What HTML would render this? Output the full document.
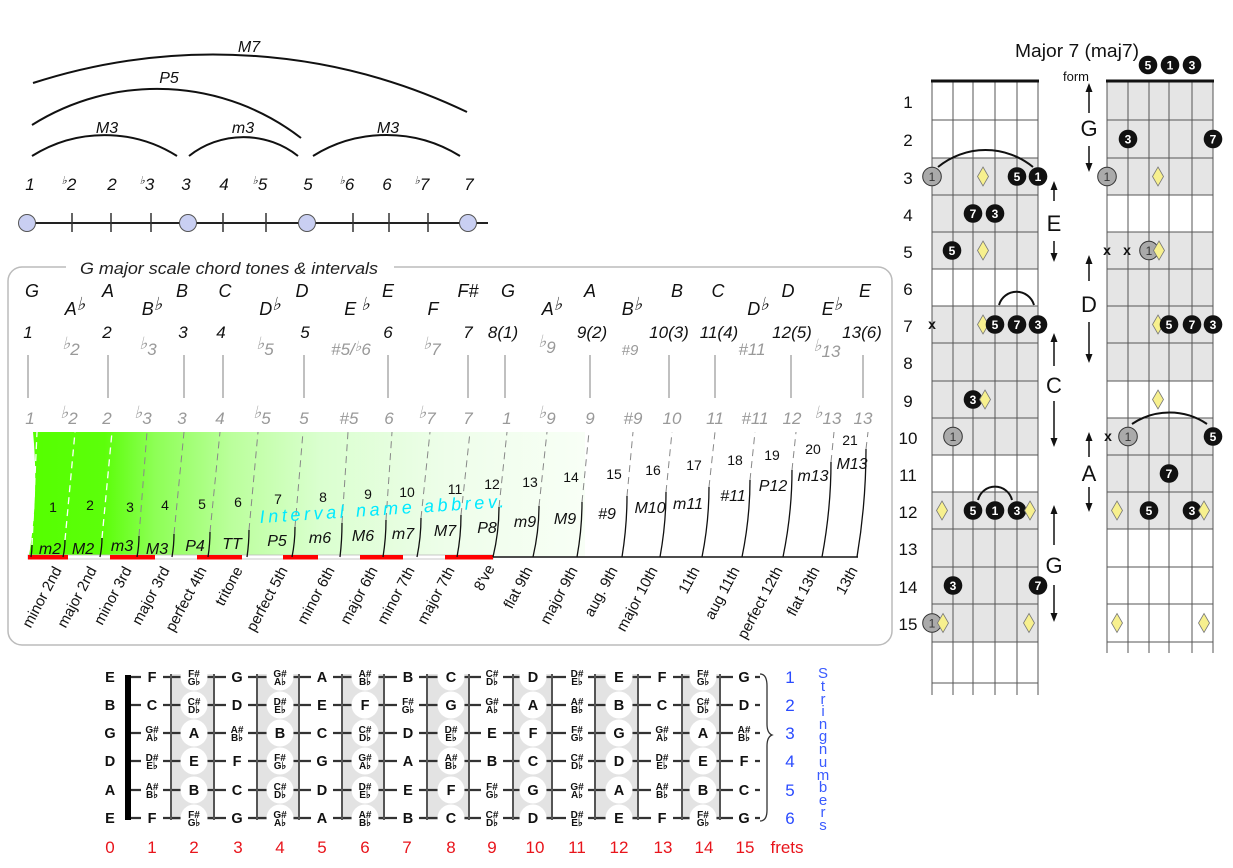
<!DOCTYPE html>
<html><head><meta charset="utf-8"><style>
html,body{margin:0;padding:0;background:#fff}
svg{display:block}
text{font-family:"Liberation Sans",Arial,sans-serif}
.i{font-style:italic}
.n{font-weight:bold;font-size:14.5px;text-anchor:middle;fill:#111}
.s{font-weight:bold;font-size:10px;text-anchor:middle;fill:#111}
.bt{fill:#fff;font-weight:bold;font-size:12px;text-anchor:middle}
.gc{fill:#aaa;stroke:#333;stroke-width:1}
.gt{fill:#333;font-size:12px;text-anchor:middle}
.d{fill:#f7f08e;stroke:#777;stroke-width:.8}
.x{font-weight:bold;font-size:14px;text-anchor:middle;fill:#111}
.nm{font-size:15px;text-anchor:end;fill:#111}
</style></head><body>
<svg width="1233" height="868" viewBox="0 0 1233 868" xmlns="http://www.w3.org/2000/svg">
<defs>
<linearGradient id="gr" x1="33" y1="0" x2="585" y2="0" gradientUnits="userSpaceOnUse">
<stop offset="0" stop-color="#55ff00"/><stop offset="0.13" stop-color="#5cff0a"/><stop offset="0.22" stop-color="#8dff55"/><stop offset="0.36" stop-color="#bbff9c"/><stop offset="0.52" stop-color="#daffcf"/><stop offset="0.75" stop-color="#eefeea"/><stop offset="1" stop-color="#f8fff6"/>
</linearGradient>
</defs>

<!-- ===== Top-left interval diagram ===== -->
<g fill="none" stroke="#111" stroke-width="2">
<path d="M32,156 A136,136 0 0 1 177,156"/>
<path d="M189,156 A88,88 0 0 1 298,156"/>
<path d="M313,156 A139,139 0 0 1 460,156"/>
<path d="M32,125 A235,235 0 0 1 301,138"/>
<path d="M33,83 A587,587 0 0 1 467,112"/>
</g>
<g class="i" font-size="16" text-anchor="middle" fill="#111">
<text x="249" y="52">M7</text>
<text x="169" y="83">P5</text>
<text x="107" y="133">M3</text>
<text x="243" y="133">m3</text>
<text x="388" y="133">M3</text>
</g>
<g class="i" font-size="17" text-anchor="middle" fill="#111">
<text x="30" y="190">1</text>
<text x="69" y="190"><tspan font-size="11" dy="-6">♭</tspan><tspan dy="6">2</tspan></text>
<text x="112" y="190">2</text>
<text x="147" y="190"><tspan font-size="11" dy="-6">♭</tspan><tspan dy="6">3</tspan></text>
<text x="186" y="190">3</text>
<text x="224" y="190">4</text>
<text x="260" y="190"><tspan font-size="11" dy="-6">♭</tspan><tspan dy="6">5</tspan></text>
<text x="308" y="190">5</text>
<text x="347" y="190"><tspan font-size="11" dy="-6">♭</tspan><tspan dy="6">6</tspan></text>
<text x="387" y="190">6</text>
<text x="422" y="190"><tspan font-size="11" dy="-6">♭</tspan><tspan dy="6">7</tspan></text>
<text x="469" y="190">7</text>
</g>
<line x1="27" y1="223" x2="488" y2="223" stroke="#222" stroke-width="2"/>
<g stroke="#333" stroke-width="1.5">
<line x1="72" y1="213" x2="72" y2="232"/><line x1="111" y1="213" x2="111" y2="232"/><line x1="151" y1="213" x2="151" y2="232"/><line x1="223" y1="213" x2="223" y2="232"/><line x1="266" y1="213" x2="266" y2="232"/><line x1="353" y1="213" x2="353" y2="232"/><line x1="389" y1="213" x2="389" y2="232"/><line x1="428" y1="213" x2="428" y2="232"/>
</g>
<g fill="#c9cff2" stroke="#555" stroke-width="1">
<circle cx="27" cy="223" r="8.5"/><circle cx="188" cy="223" r="8.5"/><circle cx="307" cy="223" r="8.5"/><circle cx="468" cy="223" r="8.5"/>
</g>

<!-- ===== Chord tones box ===== -->
<rect x="8" y="267" width="884" height="378" rx="14" fill="none" stroke="#bbb" stroke-width="1.5"/>
<rect x="66" y="258" width="328" height="16" fill="#fff"/>
<text x="229" y="274" class="i" font-size="17" text-anchor="middle" textLength="298" lengthAdjust="spacingAndGlyphs" fill="#222">G major scale chord tones &amp; intervals</text>

<g class="i" font-size="18" text-anchor="middle" fill="#111">
<text x="32" y="297">G</text><text x="108" y="297">A</text><text x="182" y="297">B</text><text x="225" y="297">C</text><text x="302" y="297">D</text><text x="388" y="297">E</text><text x="468" y="297">F#</text><text x="508" y="297">G</text><text x="590" y="297">A</text><text x="677" y="297">B</text><text x="718" y="297">C</text><text x="788" y="297">D</text><text x="865" y="297">E</text>
<text x="75" y="315">A<tspan dy="-5">♭</tspan></text>
<text x="152" y="315">B<tspan dy="-5">♭</tspan></text>
<text x="270" y="315">D<tspan dy="-5">♭</tspan></text>
<text x="357" y="315">E <tspan dy="-5">♭</tspan></text>
<text x="433" y="315">F</text>
<text x="552" y="315">A<tspan dy="-5">♭</tspan></text>
<text x="632" y="315">B<tspan dy="-5">♭</tspan></text>
<text x="758" y="315">D<tspan dy="-5">♭</tspan></text>
<text x="832" y="315">E<tspan dy="-5">♭</tspan></text>
</g>
<g class="i" font-size="17" text-anchor="middle" fill="#111">
<text x="28" y="338">1</text><text x="107" y="338">2</text><text x="183" y="338">3</text><text x="221" y="338">4</text><text x="305" y="338">5</text><text x="388" y="338">6</text><text x="468" y="338">7</text><text x="503" y="338">8(1)</text><text x="592" y="338">9(2)</text><text x="669" y="338">10(3)</text><text x="719" y="338">11(4)</text><text x="792" y="338">12(5)</text><text x="862" y="338">13(6)</text>
</g>
<g class="i" font-size="17" text-anchor="middle" fill="#999">
<text x="71" y="355"><tspan dy="-6">♭</tspan><tspan dy="6">2</tspan></text>
<text x="148" y="355"><tspan dy="-6">♭</tspan><tspan dy="6">3</tspan></text>
<text x="265" y="355"><tspan dy="-6">♭</tspan><tspan dy="6">5</tspan></text>
<text x="351" y="355">#5/<tspan dy="-4" font-size="14">♭</tspan><tspan dy="4">6</tspan></text>
<text x="432" y="355"><tspan dy="-6">♭</tspan><tspan dy="6">7</tspan></text>
<text x="547" y="353"><tspan dy="-6">♭</tspan><tspan dy="6">9</tspan></text>
<text x="630" y="355" font-size="15">#9</text>
<text x="752" y="355">#11</text>
<text x="827" y="357"><tspan dy="-6">♭</tspan><tspan dy="6">13</tspan></text>
</g>
<g stroke="#aaa" stroke-width="1.5">
<line x1="28" y1="355" x2="28" y2="398"/><line x1="108" y1="355" x2="108" y2="398"/><line x1="184" y1="355" x2="184" y2="398"/><line x1="223" y1="355" x2="223" y2="398"/><line x1="304" y1="355" x2="304" y2="398"/><line x1="388" y1="355" x2="388" y2="398"/><line x1="468" y1="355" x2="468" y2="398"/><line x1="505" y1="355" x2="505" y2="398"/><line x1="590" y1="355" x2="590" y2="398"/><line x1="669" y1="355" x2="669" y2="398"/><line x1="715" y1="355" x2="715" y2="398"/><line x1="791" y1="355" x2="791" y2="398"/><line x1="863" y1="355" x2="863" y2="398"/>
</g>
<g class="i" font-size="17" text-anchor="middle" fill="#999">
<text x="30" y="424">1</text>
<text x="69" y="424"><tspan dy="-6">♭</tspan><tspan dy="6">2</tspan></text>
<text x="107" y="424">2</text>
<text x="143" y="424"><tspan dy="-6">♭</tspan><tspan dy="6">3</tspan></text>
<text x="182" y="424">3</text>
<text x="220" y="424">4</text>
<text x="262" y="424"><tspan dy="-6">♭</tspan><tspan dy="6">5</tspan></text>
<text x="304" y="424">5</text>
<text x="349" y="424">#5</text>
<text x="389" y="424">6</text>
<text x="427" y="424"><tspan dy="-6">♭</tspan><tspan dy="6">7</tspan></text>
<text x="468" y="424">7</text>
<text x="507" y="424">1</text>
<text x="547" y="424"><tspan dy="-6">♭</tspan><tspan dy="6">9</tspan></text>
<text x="590" y="424">9</text>
<text x="633" y="424">#9</text>
<text x="672" y="424">10</text>
<text x="715" y="424">11</text>
<text x="755" y="424">#11</text>
<text x="792" y="424">12</text>
<text x="828" y="424"><tspan dy="-6">♭</tspan><tspan dy="6">13</tspan></text>
<text x="863" y="424">13</text>
</g>

<!-- green area -->
<path d="M33,432 L585,432 L585,556 L29,556 Q39,494 33,432 Z" fill="url(#gr)"/>

<!-- baseline -->
<rect x="28" y="555" width="465" height="4" fill="#fff" stroke="#bbb" stroke-width="0.8"/>
<line x1="493" y1="557" x2="858" y2="557" stroke="#111" stroke-width="1.5"/>
<g fill="#f00">
<rect x="28" y="555" width="40" height="4.5"/><rect x="110" y="555" width="45" height="4.5"/><rect x="197" y="555" width="45" height="4.5"/><rect x="283" y="555" width="35" height="4.5"/><rect x="360" y="555" width="43" height="4.5"/><rect x="445" y="555" width="48" height="4.5"/>
</g>

<!-- separators solid -->
<g fill="none" stroke="#111" stroke-width="1.3">
<path d="M31,557 Q32,551 32,545"/>
<path d="M63,557 Q65,548 65,540"/>
<path d="M100,557 Q102,547 102,538"/>
<path d="M137,557 Q139,546 139,536"/>
<path d="M172,557 Q174,545 174,534"/>
<path d="M208,557 Q210,544 210,532"/>
<path d="M247,557 Q249,543 249,530"/>
<path d="M292,557 Q295,542 295,527"/>
<path d="M340,557 Q342,540 342,523"/>
<path d="M383,557 Q386,538 386,520"/>
<path d="M417,557 Q421,537 421,518"/>
<path d="M457,557 Q461,536 461,515"/>
<path d="M493,557 Q499,532 499,507"/>
<path d="M533,557 Q539,531 539,506"/>
<path d="M577,557 Q582,529 582,502"/>
<path d="M622,557 Q627,526 627,496"/>
<path d="M660,557 Q666,524 666,492"/>
<path d="M702,557 Q709,522 709,487"/>
<path d="M742,557 Q750,518 750,480"/>
<path d="M783,557 Q792,513 792,470"/>
<path d="M822,557 Q831,509 831,462"/>
<path d="M857,557 Q866,503 866,449"/>
</g>
<g fill="none" stroke="#fff" stroke-width="1.3" stroke-dasharray="7,5">
<path d="M32,545 L37,432"/><path d="M65,540 L75,432"/><path d="M102,538 L112,432"/>
</g>
<g fill="none" stroke="#888" stroke-width="1" stroke-dasharray="7,5">
<path d="M139,536 L147,432"/><path d="M174,534 L184,432"/><path d="M210,532 L220,432"/><path d="M249,530 L258,432"/><path d="M295,527 L303,432"/><path d="M342,523 L348,432"/><path d="M386,520 L392,432"/><path d="M421,518 L430,432"/><path d="M461,515 L470,432"/><path d="M499,507 L507,432"/><path d="M539,506 L547,432"/><path d="M582,502 L589,432"/><path d="M627,496 L633,432"/><path d="M666,492 L672,432"/><path d="M709,487 L715,432"/><path d="M750,480 L755,432"/><path d="M792,470 L796,432"/><path d="M831,462 L834,432"/><path d="M866,449 L868,432"/>
</g>

<!-- numbers 1-21 -->
<g font-size="14" text-anchor="middle" fill="#111">
<text x="53" y="512">1</text><text x="90" y="510">2</text><text x="130" y="512">3</text><text x="165" y="510">4</text><text x="202" y="509">5</text><text x="238" y="507">6</text><text x="278" y="504">7</text><text x="323" y="502">8</text><text x="368" y="499">9</text><text x="407" y="497">10</text><text x="455" y="494">11</text><text x="492" y="489">12</text><text x="530" y="487">13</text><text x="571" y="482">14</text><text x="614" y="479">15</text><text x="653" y="475">16</text><text x="694" y="470">17</text><text x="735" y="465">18</text><text x="772" y="460">19</text><text x="813" y="454">20</text><text x="850" y="445">21</text>
</g>

<!-- abbreviations -->
<g class="i" font-size="16" text-anchor="middle" fill="#111">
<text x="50" y="554">m2</text><text x="83" y="554">M2</text><text x="122" y="551">m3</text><text x="157" y="554">M3</text><text x="195" y="551">P4</text><text x="232" y="549">TT</text><text x="277" y="546">P5</text><text x="320" y="543">m6</text><text x="363" y="541">M6</text><text x="403" y="539">m7</text><text x="445" y="536">M7</text><text x="487" y="533">P8</text><text x="525" y="527">m9</text><text x="565" y="524">M9</text><text x="607" y="519">#9</text><text x="650" y="513">M10</text><text x="688" y="509">m11</text><text x="733" y="501">#11</text><text x="773" y="491">P12</text><text x="813" y="481">m13</text><text x="852" y="469">M13</text>
</g>

<text x="260" y="523" transform="rotate(-3.7 260 523)" class="i" font-size="18" fill="#00eaff" textLength="245" lengthAdjust="spacing">Interval name abbrev.</text>

<!-- full names -->
<g>
<text class="nm" transform="translate(62,570) rotate(-62)">minor 2nd</text>
<text class="nm" transform="translate(97,570) rotate(-62)">major 2nd</text>
<text class="nm" transform="translate(132,570) rotate(-62)">minor 3rd</text>
<text class="nm" transform="translate(170,570) rotate(-62)">major 3rd</text>
<text class="nm" transform="translate(207,570) rotate(-62)">perfect 4th</text>
<text class="nm" transform="translate(243,570) rotate(-62)">tritone</text>
<text class="nm" transform="translate(288,570) rotate(-62)">perfect 5th</text>
<text class="nm" transform="translate(335,570) rotate(-62)">minor 6th</text>
<text class="nm" transform="translate(378,570) rotate(-62)">major 6th</text>
<text class="nm" transform="translate(415,570) rotate(-62)">minor 7th</text>
<text class="nm" transform="translate(455,570) rotate(-62)">major 7th</text>
<text class="nm" transform="translate(495,568) rotate(-62)">8've</text>
<text class="nm" transform="translate(533,570) rotate(-62)">flat 9th</text>
<text class="nm" transform="translate(578,570) rotate(-62)">major 9th</text>
<text class="nm" transform="translate(618,570) rotate(-62)">aug. 9th</text>
<text class="nm" transform="translate(658,570) rotate(-62)">major 10th</text>
<text class="nm" transform="translate(700,570) rotate(-62)">11th</text>
<text class="nm" transform="translate(740,570) rotate(-62)">aug 11th</text>
<text class="nm" transform="translate(783,570) rotate(-62)">perfect 12th</text>
<text class="nm" transform="translate(820,570) rotate(-62)">flat 13th</text>
<text class="nm" transform="translate(858,570) rotate(-62)">13th</text>
</g>

<!-- ===== Bottom fretboard ===== -->
<g fill="#e3e3e3">
<rect x="171" y="674" width="43" height="146"/><rect x="257" y="674" width="42" height="146"/><rect x="342" y="674" width="42" height="146"/><rect x="427" y="674" width="42" height="146"/><rect x="513" y="674" width="39" height="146"/><rect x="595" y="674" width="43" height="146"/><rect x="682" y="674" width="38" height="146"/>
</g>
<g stroke="#333" stroke-width="2.2">
<line x1="128" y1="677" x2="760" y2="677"/><line x1="128" y1="705" x2="760" y2="705"/><line x1="128" y1="733" x2="760" y2="733"/><line x1="128" y1="761" x2="760" y2="761"/><line x1="128" y1="790" x2="760" y2="790"/><line x1="128" y1="818" x2="760" y2="818"/>
</g>
<g stroke="#555" stroke-width="2">
<line x1="171" y1="674" x2="171" y2="820"/><line x1="214" y1="674" x2="214" y2="820"/><line x1="257" y1="674" x2="257" y2="820"/><line x1="299" y1="674" x2="299" y2="820"/><line x1="342" y1="674" x2="342" y2="820"/><line x1="384" y1="674" x2="384" y2="820"/><line x1="427" y1="674" x2="427" y2="820"/><line x1="469" y1="674" x2="469" y2="820"/><line x1="513" y1="674" x2="513" y2="820"/><line x1="552" y1="674" x2="552" y2="820"/><line x1="595" y1="674" x2="595" y2="820"/><line x1="638" y1="674" x2="638" y2="820"/><line x1="682" y1="674" x2="682" y2="820"/><line x1="720" y1="674" x2="720" y2="820"/>
</g>
<rect x="125" y="675" width="6" height="145" fill="#000"/>
<g fill="#fff">
<circle cx="194" cy="677" r="13.5"/><circle cx="194" cy="705" r="13.5"/><circle cx="194" cy="733" r="13.5"/><circle cx="194" cy="761" r="13.5"/><circle cx="194" cy="790" r="13.5"/><circle cx="194" cy="818" r="13.5"/>
<circle cx="280" cy="677" r="13.5"/><circle cx="280" cy="705" r="13.5"/><circle cx="280" cy="733" r="13.5"/><circle cx="280" cy="761" r="13.5"/><circle cx="280" cy="790" r="13.5"/><circle cx="280" cy="818" r="13.5"/>
<circle cx="365" cy="677" r="13.5"/><circle cx="365" cy="705" r="13.5"/><circle cx="365" cy="733" r="13.5"/><circle cx="365" cy="761" r="13.5"/><circle cx="365" cy="790" r="13.5"/><circle cx="365" cy="818" r="13.5"/>
<circle cx="451" cy="677" r="13.5"/><circle cx="451" cy="705" r="13.5"/><circle cx="451" cy="733" r="13.5"/><circle cx="451" cy="761" r="13.5"/><circle cx="451" cy="790" r="13.5"/><circle cx="451" cy="818" r="13.5"/>
<circle cx="533" cy="677" r="13.5"/><circle cx="533" cy="705" r="13.5"/><circle cx="533" cy="733" r="13.5"/><circle cx="533" cy="761" r="13.5"/><circle cx="533" cy="790" r="13.5"/><circle cx="533" cy="818" r="13.5"/>
<circle cx="619" cy="677" r="13.5"/><circle cx="619" cy="705" r="13.5"/><circle cx="619" cy="733" r="13.5"/><circle cx="619" cy="761" r="13.5"/><circle cx="619" cy="790" r="13.5"/><circle cx="619" cy="818" r="13.5"/>
<circle cx="703" cy="677" r="13.5"/><circle cx="703" cy="705" r="13.5"/><circle cx="703" cy="733" r="13.5"/><circle cx="703" cy="761" r="13.5"/><circle cx="703" cy="790" r="13.5"/><circle cx="703" cy="818" r="13.5"/>
<rect x="141" y="668" width="22" height="158"/><rect x="226" y="668" width="22" height="158"/><rect x="311" y="668" width="22" height="158"/><rect x="397" y="668" width="22" height="158"/><rect x="481" y="668" width="22" height="158"/><rect x="566" y="668" width="22" height="158"/><rect x="651" y="668" width="22" height="158"/><rect x="733" y="668" width="22" height="158"/>
</g>
<g>
<text class="n" x="110" y="682">E</text><text class="n" x="110" y="710">B</text><text class="n" x="110" y="738">G</text><text class="n" x="110" y="766">D</text><text class="n" x="110" y="795">A</text><text class="n" x="110" y="823">E</text>
<text class="n" x="152" y="682">F</text><text class="n" x="152" y="710">C</text>
<text class="s" x="152" y="733">G#</text><text class="s" x="152" y="741">A♭</text>
<text class="s" x="152" y="761">D#</text><text class="s" x="152" y="769">E♭</text>
<text class="s" x="152" y="790">A#</text><text class="s" x="152" y="798">B♭</text>
<text class="n" x="152" y="823">F</text>
<text class="s" x="194" y="677">F#</text><text class="s" x="194" y="685">G♭</text>
<text class="s" x="194" y="705">C#</text><text class="s" x="194" y="713">D♭</text>
<text class="n" x="194" y="738">A</text><text class="n" x="194" y="766">E</text><text class="n" x="194" y="795">B</text>
<text class="s" x="194" y="818">F#</text><text class="s" x="194" y="826">G♭</text>
<text class="n" x="237" y="682">G</text><text class="n" x="237" y="710">D</text>
<text class="s" x="237" y="733">A#</text><text class="s" x="237" y="741">B♭</text>
<text class="n" x="237" y="766">F</text><text class="n" x="237" y="795">C</text><text class="n" x="237" y="823">G</text>
<text class="s" x="280" y="677">G#</text><text class="s" x="280" y="685">A♭</text>
<text class="s" x="280" y="705">D#</text><text class="s" x="280" y="713">E♭</text>
<text class="n" x="280" y="738">B</text>
<text class="s" x="280" y="761">F#</text><text class="s" x="280" y="769">G♭</text>
<text class="s" x="280" y="790">C#</text><text class="s" x="280" y="798">D♭</text>
<text class="s" x="280" y="818">G#</text><text class="s" x="280" y="826">A♭</text>
<text class="n" x="322" y="682">A</text><text class="n" x="322" y="710">E</text><text class="n" x="322" y="738">C</text><text class="n" x="322" y="766">G</text><text class="n" x="322" y="795">D</text><text class="n" x="322" y="823">A</text>
<text class="s" x="365" y="677">A#</text><text class="s" x="365" y="685">B♭</text>
<text class="n" x="365" y="710">F</text>
<text class="s" x="365" y="733">C#</text><text class="s" x="365" y="741">D♭</text>
<text class="s" x="365" y="761">G#</text><text class="s" x="365" y="769">A♭</text>
<text class="s" x="365" y="790">D#</text><text class="s" x="365" y="798">E♭</text>
<text class="s" x="365" y="818">A#</text><text class="s" x="365" y="826">B♭</text>
<text class="n" x="408" y="682">B</text>
<text class="s" x="408" y="705">F#</text><text class="s" x="408" y="713">G♭</text>
<text class="n" x="408" y="738">D</text><text class="n" x="408" y="766">A</text><text class="n" x="408" y="795">E</text><text class="n" x="408" y="823">B</text>
<text class="n" x="451" y="682">C</text><text class="n" x="451" y="710">G</text>
<text class="s" x="451" y="733">D#</text><text class="s" x="451" y="741">E♭</text>
<text class="s" x="451" y="761">A#</text><text class="s" x="451" y="769">B♭</text>
<text class="n" x="451" y="795">F</text><text class="n" x="451" y="823">C</text>
<text class="s" x="492" y="677">C#</text><text class="s" x="492" y="685">D♭</text>
<text class="s" x="492" y="705">G#</text><text class="s" x="492" y="713">A♭</text>
<text class="n" x="492" y="738">E</text><text class="n" x="492" y="766">B</text>
<text class="s" x="492" y="790">F#</text><text class="s" x="492" y="798">G♭</text>
<text class="s" x="492" y="818">C#</text><text class="s" x="492" y="826">D♭</text>
<text class="n" x="533" y="682">D</text><text class="n" x="533" y="710">A</text><text class="n" x="533" y="738">F</text><text class="n" x="533" y="766">C</text><text class="n" x="533" y="795">G</text><text class="n" x="533" y="823">D</text>
<text class="s" x="577" y="677">D#</text><text class="s" x="577" y="685">E♭</text>
<text class="s" x="577" y="705">A#</text><text class="s" x="577" y="713">B♭</text>
<text class="s" x="577" y="733">F#</text><text class="s" x="577" y="741">G♭</text>
<text class="s" x="577" y="761">C#</text><text class="s" x="577" y="769">D♭</text>
<text class="s" x="577" y="790">G#</text><text class="s" x="577" y="798">A♭</text>
<text class="s" x="577" y="818">D#</text><text class="s" x="577" y="826">E♭</text>
<text class="n" x="619" y="682">E</text><text class="n" x="619" y="710">B</text><text class="n" x="619" y="738">G</text><text class="n" x="619" y="766">D</text><text class="n" x="619" y="795">A</text><text class="n" x="619" y="823">E</text>
<text class="n" x="662" y="682">F</text><text class="n" x="662" y="710">C</text>
<text class="s" x="662" y="733">G#</text><text class="s" x="662" y="741">A♭</text>
<text class="s" x="662" y="761">D#</text><text class="s" x="662" y="769">E♭</text>
<text class="s" x="662" y="790">A#</text><text class="s" x="662" y="798">B♭</text>
<text class="n" x="662" y="823">F</text>
<text class="s" x="703" y="677">F#</text><text class="s" x="703" y="685">G♭</text>
<text class="s" x="703" y="705">C#</text><text class="s" x="703" y="713">D♭</text>
<text class="n" x="703" y="738">A</text><text class="n" x="703" y="766">E</text><text class="n" x="703" y="795">B</text>
<text class="s" x="703" y="818">F#</text><text class="s" x="703" y="826">G♭</text>
<text class="n" x="744" y="682">G</text><text class="n" x="744" y="710">D</text>
<text class="s" x="744" y="733">A#</text><text class="s" x="744" y="741">B♭</text>
<text class="n" x="744" y="766">F</text><text class="n" x="744" y="795">C</text><text class="n" x="744" y="823">G</text>
</g>
<path d="M760,674 Q767,674 767,686 L767,724 Q767,733 772,735 Q767,737 767,746 L767,810 Q767,821 760,821" fill="none" stroke="#333" stroke-width="1.3"/>
<g font-size="17" text-anchor="middle" fill="#2a4bff">
<text x="790" y="683">1</text><text x="790" y="711">2</text><text x="790" y="739">3</text><text x="790" y="767">4</text><text x="790" y="796">5</text><text x="790" y="824">6</text>
</g>
<g font-size="15" text-anchor="middle" fill="#3a5bff">
<text x="823" y="678">S</text><text x="823" y="691">t</text><text x="823" y="704">r</text><text x="823" y="716">i</text><text x="823" y="729">n</text><text x="823" y="741">g</text><text x="823" y="754">n</text><text x="823" y="767">u</text><text x="823" y="780">m</text><text x="823" y="792">b</text><text x="823" y="805">e</text><text x="823" y="817">r</text><text x="823" y="830">s</text>
</g>
<g font-size="17" text-anchor="middle" fill="#e8141b">
<text x="110" y="853">0</text><text x="152" y="853">1</text><text x="194" y="853">2</text><text x="238" y="853">3</text><text x="280" y="853">4</text><text x="322" y="853">5</text><text x="365" y="853">6</text><text x="407" y="853">7</text><text x="451" y="853">8</text><text x="492" y="853">9</text><text x="535" y="853">10</text><text x="577" y="853">11</text><text x="619" y="853">12</text><text x="663" y="853">13</text><text x="704" y="853">14</text><text x="745" y="853">15</text><text x="787" y="853">frets</text>
</g>

<!-- ===== Right chord diagrams ===== -->
<text x="1077" y="57" font-size="18" text-anchor="middle" textLength="124" lengthAdjust="spacingAndGlyphs" fill="#111">Major 7 (maj7)</text>
<g fill="#e5e5e5">
<rect x="932" y="158" width="106" height="111"/><rect x="932" y="306" width="106" height="149"/><rect x="932" y="492" width="106" height="150"/>
<rect x="1107" y="82" width="106" height="113"/><rect x="1107" y="232" width="106" height="149"/><rect x="1107" y="418" width="106" height="111"/>
</g>
<g stroke="#555" stroke-width="1">
<line x1="932" y1="82" x2="932" y2="695"/><line x1="953" y1="82" x2="953" y2="695"/><line x1="973" y1="82" x2="973" y2="695"/><line x1="995" y1="82" x2="995" y2="695"/><line x1="1017" y1="82" x2="1017" y2="695"/><line x1="1038" y1="82" x2="1038" y2="695"/>
<line x1="1107" y1="82" x2="1107" y2="653"/><line x1="1128" y1="82" x2="1128" y2="653"/><line x1="1149" y1="82" x2="1149" y2="653"/><line x1="1169" y1="82" x2="1169" y2="653"/><line x1="1192" y1="82" x2="1192" y2="653"/><line x1="1213" y1="82" x2="1213" y2="653"/>
<line x1="932" y1="120" x2="1038" y2="120"/><line x1="932" y1="158" x2="1038" y2="158"/><line x1="932" y1="195" x2="1038" y2="195"/><line x1="932" y1="232" x2="1038" y2="232"/><line x1="932" y1="269" x2="1038" y2="269"/><line x1="932" y1="306" x2="1038" y2="306"/><line x1="932" y1="343" x2="1038" y2="343"/><line x1="932" y1="381" x2="1038" y2="381"/><line x1="932" y1="418" x2="1038" y2="418"/><line x1="932" y1="455" x2="1038" y2="455"/><line x1="932" y1="492" x2="1038" y2="492"/><line x1="932" y1="529" x2="1038" y2="529"/><line x1="932" y1="567" x2="1038" y2="567"/><line x1="932" y1="604" x2="1038" y2="604"/><line x1="932" y1="642" x2="1038" y2="642"/><line x1="932" y1="683" x2="1038" y2="683"/>
<line x1="1107" y1="120" x2="1213" y2="120"/><line x1="1107" y1="158" x2="1213" y2="158"/><line x1="1107" y1="195" x2="1213" y2="195"/><line x1="1107" y1="232" x2="1213" y2="232"/><line x1="1107" y1="269" x2="1213" y2="269"/><line x1="1107" y1="306" x2="1213" y2="306"/><line x1="1107" y1="343" x2="1213" y2="343"/><line x1="1107" y1="381" x2="1213" y2="381"/><line x1="1107" y1="418" x2="1213" y2="418"/><line x1="1107" y1="455" x2="1213" y2="455"/><line x1="1107" y1="492" x2="1213" y2="492"/><line x1="1107" y1="529" x2="1213" y2="529"/><line x1="1107" y1="567" x2="1213" y2="567"/><line x1="1107" y1="604" x2="1213" y2="604"/><line x1="1107" y1="642" x2="1213" y2="642"/>
</g>
<g stroke="#111" stroke-width="3">
<line x1="931" y1="81" x2="1039" y2="81"/><line x1="1106" y1="81" x2="1214" y2="81"/>
</g>
<g font-size="17" text-anchor="middle" fill="#111">
<text x="908" y="108">1</text><text x="908" y="146">2</text><text x="908" y="184">3</text><text x="908" y="221">4</text><text x="908" y="258">5</text><text x="908" y="295">6</text><text x="908" y="332">7</text><text x="908" y="369">8</text><text x="908" y="407">9</text><text x="908" y="444">10</text><text x="908" y="481">11</text><text x="908" y="518">12</text><text x="908" y="555">13</text><text x="908" y="593">14</text><text x="908" y="630">15</text>
</g>
<text x="1076" y="81" font-size="13" text-anchor="middle" fill="#111">form</text>

<g fill="none" stroke="#111" stroke-width="2">
<path d="M938,167 A75,75 0 0 1 1033,167"/>
<path d="M999,305 A18.2,18.2 0 0 1 1034,305"/>
<path d="M978,500 A17.5,17.5 0 0 1 1012,500"/>
<path d="M1132,424 A67,67 0 0 1 1207,424"/>
</g>

<circle class="gc" cx="932" cy="176.5" r="9.3"/><text class="gt" x="932" y="181">1</text>
<polygon class="d" points="983,167 988.5,176.5 983,186 977.5,176.5"/>
<circle cx="1017" cy="176.5" r="9.3" fill="#111"/><text class="bt" x="1017" y="181">5</text>
<circle cx="1038" cy="176.5" r="9.3" fill="#111"/><text class="bt" x="1038" y="181">1</text>

<circle cx="973" cy="213.5" r="9.3" fill="#111"/><text class="bt" x="973" y="218">7</text>
<circle cx="995" cy="213.5" r="9.3" fill="#111"/><text class="bt" x="995" y="218">3</text>

<circle cx="952" cy="250.5" r="9.3" fill="#111"/><text class="bt" x="952" y="255">5</text>
<polygon class="d" points="983,241 988.5,250.5 983,260 977.5,250.5"/>

<text class="x" x="932" y="329">x</text>
<polygon class="d" points="983,315 988.5,324.5 983,334 977.5,324.5"/>
<circle cx="995" cy="324.5" r="9.3" fill="#111"/><text class="bt" x="995" y="329">5</text>
<circle cx="1017" cy="324.5" r="9.3" fill="#111"/><text class="bt" x="1017" y="329">7</text>
<circle cx="1038" cy="324.5" r="9.3" fill="#111"/><text class="bt" x="1038" y="329">3</text>

<circle cx="973" cy="399.5" r="9.3" fill="#111"/><text class="bt" x="973" y="404">3</text>
<polygon class="d" points="985,390 990.5,399.5 985,409 979.5,399.5"/>

<circle class="gc" cx="953" cy="436.5" r="9.3"/><text class="gt" x="953" y="441">1</text>

<polygon class="d" points="942,501 947.5,510.5 942,520 936.5,510.5"/>
<circle cx="973" cy="510.5" r="9.3" fill="#111"/><text class="bt" x="973" y="515">5</text>
<circle cx="995" cy="510.5" r="9.3" fill="#111"/><text class="bt" x="995" y="515">1</text>
<circle cx="1017" cy="510.5" r="9.3" fill="#111"/><text class="bt" x="1017" y="515">3</text>
<polygon class="d" points="1030,501 1035.5,510.5 1030,520 1024.5,510.5"/>

<circle cx="953" cy="585.5" r="9.3" fill="#111"/><text class="bt" x="953" y="590">3</text>
<circle cx="1038" cy="585.5" r="9.3" fill="#111"/><text class="bt" x="1038" y="590">7</text>

<circle class="gc" cx="932" cy="623" r="9.3"/><text class="gt" x="932" y="627.5">1</text>
<polygon class="d" points="943,613.5 948.5,623 943,632.5 937.5,623"/>
<polygon class="d" points="1029,613.5 1034.5,623 1029,632.5 1023.5,623"/>

<circle cx="1148" cy="65" r="9.3" fill="#111"/><text class="bt" x="1148" y="69.5">5</text>
<circle cx="1170" cy="65" r="9.3" fill="#111"/><text class="bt" x="1170" y="69.5">1</text>
<circle cx="1192" cy="65" r="9.3" fill="#111"/><text class="bt" x="1192" y="69.5">3</text>

<circle cx="1128" cy="139" r="9.3" fill="#111"/><text class="bt" x="1128" y="143.5">3</text>
<circle cx="1213" cy="139" r="9.3" fill="#111"/><text class="bt" x="1213" y="143.5">7</text>

<circle class="gc" cx="1107" cy="176.5" r="9.3"/><text class="gt" x="1107" y="181">1</text>
<polygon class="d" points="1158,167 1163.5,176.5 1158,186 1152.5,176.5"/>

<text class="x" x="1107" y="255">x</text><text class="x" x="1127" y="255">x</text>
<circle class="gc" cx="1149" cy="250.5" r="9.3"/><text class="gt" x="1149" y="255">1</text>
<polygon class="d" points="1159,241 1164.5,250.5 1159,260 1153.5,250.5"/>

<polygon class="d" points="1158,315 1163.5,324.5 1158,334 1152.5,324.5"/>
<circle cx="1169" cy="324.5" r="9.3" fill="#111"/><text class="bt" x="1169" y="329">5</text>
<circle cx="1192" cy="324.5" r="9.3" fill="#111"/><text class="bt" x="1192" y="329">7</text>
<circle cx="1213" cy="324.5" r="9.3" fill="#111"/><text class="bt" x="1213" y="329">3</text>

<polygon class="d" points="1158,390 1163.5,399.5 1158,409 1152.5,399.5"/>

<text class="x" x="1108" y="441">x</text>
<circle class="gc" cx="1128" cy="436.5" r="9.3"/><text class="gt" x="1128" y="441">1</text>
<circle cx="1213" cy="436.5" r="9.3" fill="#111"/><text class="bt" x="1213" y="441">5</text>

<circle cx="1169" cy="473.5" r="9.3" fill="#111"/><text class="bt" x="1169" y="478">7</text>

<polygon class="d" points="1117,501 1122.5,510.5 1117,520 1111.5,510.5"/>
<circle cx="1149" cy="510.5" r="9.3" fill="#111"/><text class="bt" x="1149" y="515">5</text>
<circle cx="1192" cy="510.5" r="9.3" fill="#111"/><text class="bt" x="1192" y="515">3</text>
<polygon class="d" points="1204,501 1209.5,510.5 1204,520 1198.5,510.5"/>

<polygon class="d" points="1117,613.5 1122.5,623 1117,632.5 1111.5,623"/>
<polygon class="d" points="1204,613.5 1209.5,623 1204,632.5 1198.5,623"/>

<g stroke="#111" stroke-width="1.5">
<line x1="1054" y1="188" x2="1054" y2="201"/><line x1="1054" y1="241" x2="1054" y2="255"/>
<line x1="1054" y1="340" x2="1054" y2="366"/><line x1="1054" y1="401" x2="1054" y2="440"/>
<line x1="1054" y1="512" x2="1054" y2="545"/><line x1="1054" y1="585" x2="1054" y2="615"/>
<line x1="1089" y1="90" x2="1089" y2="113"/><line x1="1089" y1="146" x2="1089" y2="165"/>
<line x1="1089" y1="262" x2="1089" y2="281"/><line x1="1089" y1="322" x2="1089" y2="356"/>
<line x1="1089" y1="439" x2="1089" y2="457"/><line x1="1089" y1="487" x2="1089" y2="505"/>
</g>
<g fill="#111">
<polygon points="1054,181 1050.5,190 1057.5,190"/><polygon points="1054,262 1050.5,253 1057.5,253"/>
<polygon points="1054,333 1050.5,342 1057.5,342"/><polygon points="1054,447 1050.5,438 1057.5,438"/>
<polygon points="1054,505 1050.5,514 1057.5,514"/><polygon points="1054,622 1050.5,613 1057.5,613"/>
<polygon points="1089,83 1085.5,92 1092.5,92"/><polygon points="1089,172 1085.5,163 1092.5,163"/>
<polygon points="1089,255 1085.5,264 1092.5,264"/><polygon points="1089,363 1085.5,354 1092.5,354"/>
<polygon points="1089,432 1085.5,441 1092.5,441"/><polygon points="1089,512 1085.5,503 1092.5,503"/>
</g>
<g font-size="22" text-anchor="middle" fill="#111">
<text x="1054" y="231">E</text><text x="1054" y="393">C</text><text x="1054" y="573">G</text>
<text x="1089" y="136">G</text><text x="1089" y="312">D</text><text x="1089" y="481">A</text>
</g>
</svg>
</body></html>
